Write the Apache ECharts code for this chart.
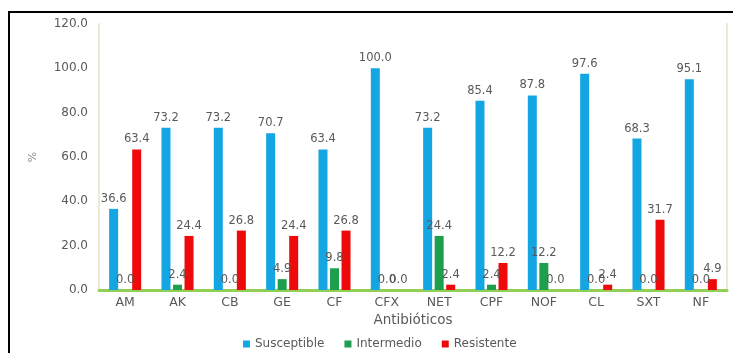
<!DOCTYPE html>
<html>
<head>
<meta charset="utf-8">
<script src="https://cdn.jsdelivr.net/npm/echarts@6/dist/echarts.min.js"></script>
<style>
  html, body { margin: 0; padding: 0; background: #fff; }
  #wrap { position: relative; width: 733px; height: 353px; overflow: hidden; }
  #chart { position: absolute; left: 0; top: 0; width: 733px; height: 353px; }
  #frame { position: absolute; left: 8px; top: 11px; right: -4px; bottom: -4px;
           border-top: 2px solid #000; border-left: 2px solid #000; pointer-events: none; }
</style>
</head>
<body>
<div id="wrap">
  <div id="chart"></div>
  <div id="frame"></div>
</div>
<script>
const categories = ['AM', 'AK', 'CB', 'GE', 'CF', 'CFX', 'NET', 'CPF', 'NOF', 'CL', 'SXT', 'NF'];
const susceptible = [36.6, 73.2, 73.2, 70.7, 63.4, 100.0, 73.2, 85.4, 87.8, 97.6, 68.3, 95.1];
const intermedio  = [0.0, 2.4, 0.0, 4.9, 9.8, 0.0, 24.4, 2.4, 12.2, 0.0, 0.0, 0.0];
const resistente  = [63.4, 24.4, 26.8, 24.4, 26.8, 0.0, 2.4, 12.2, 0.0, 2.4, 31.7, 4.9];
const seriesNames = ['Susceptible', 'Intermedio', 'Resistente'];
const yTicks = { min: 0, max: 120, interval: 20 };

const textColor = '#595959';
const font = 'DejaVu Sans, Verdana, sans-serif';
const colors = ['#14A5E3', '#1D9F4E', '#EE0A0A'];

function barSeries(name, data, color) {
  return {
    name: name,
    type: 'bar',
    data: data,
    barWidth: 9,
    barGap: '28%',
    itemStyle: { color: color },
    label: {
      show: true,
      position: 'top',
      distance: 4,
      color: textColor,
      fontSize: 11.5,
      fontFamily: font,
      formatter: p => Number(p.value).toFixed(1)
    }
  };
}

const chart = echarts.init(document.getElementById('chart'), null, { renderer: 'canvas' });
chart.setOption({
  animation: false,
  backgroundColor: '#fff',
  color: colors,
  textStyle: { fontFamily: font },
  grid: { left: 99, right: 6, top: 24, bottom: 63, containLabel: false },
  legend: {
    data: seriesNames,
    bottom: 3,
    left: 243,
    padding: 0,
    itemWidth: 7,
    itemHeight: 7,
    itemGap: 20,
    icon: 'rect',
    textStyle: { color: textColor, fontSize: 12, fontFamily: font }
  },
  xAxis: {
    type: 'category',
    data: categories,
    name: 'Antibióticos',
    nameLocation: 'middle',
    nameGap: 22,
    nameTextStyle: { color: textColor, fontSize: 13.5, fontFamily: font },
    axisLine: { show: true, lineStyle: { color: '#92CF55', width: 3 } },
    axisTick: { show: false },
    axisLabel: { color: textColor, fontSize: 12.5, fontFamily: font, margin: 6 },
    splitLine: { show: false }
  },
  yAxis: [
    {
      type: 'value',
      min: yTicks.min,
      max: yTicks.max,
      interval: yTicks.interval,
      name: '%',
      nameLocation: 'middle',
      nameGap: 60,
      nameTextStyle: { color: '#8c8c8c', fontSize: 11, fontFamily: font },
      axisLine: { show: true, lineStyle: { color: '#EEE8D6', width: 2 } },
      axisTick: { show: false },
      axisLabel: {
        color: textColor, fontSize: 12, fontFamily: font, margin: 11,
        formatter: v => v.toFixed(1)
      },
      splitLine: { show: false }
    },
    {
      type: 'value',
      position: 'right',
      min: yTicks.min,
      max: yTicks.max,
      interval: yTicks.interval,
      axisLine: { show: true, lineStyle: { color: '#EEE8D6', width: 2 } },
      axisTick: { show: false },
      axisLabel: { show: false },
      splitLine: { show: false }
    }
  ],
  series: [
    barSeries(seriesNames[0], susceptible, colors[0]),
    barSeries(seriesNames[1], intermedio, colors[1]),
    barSeries(seriesNames[2], resistente, colors[2])
  ]
});
</script>
</body>
</html>
